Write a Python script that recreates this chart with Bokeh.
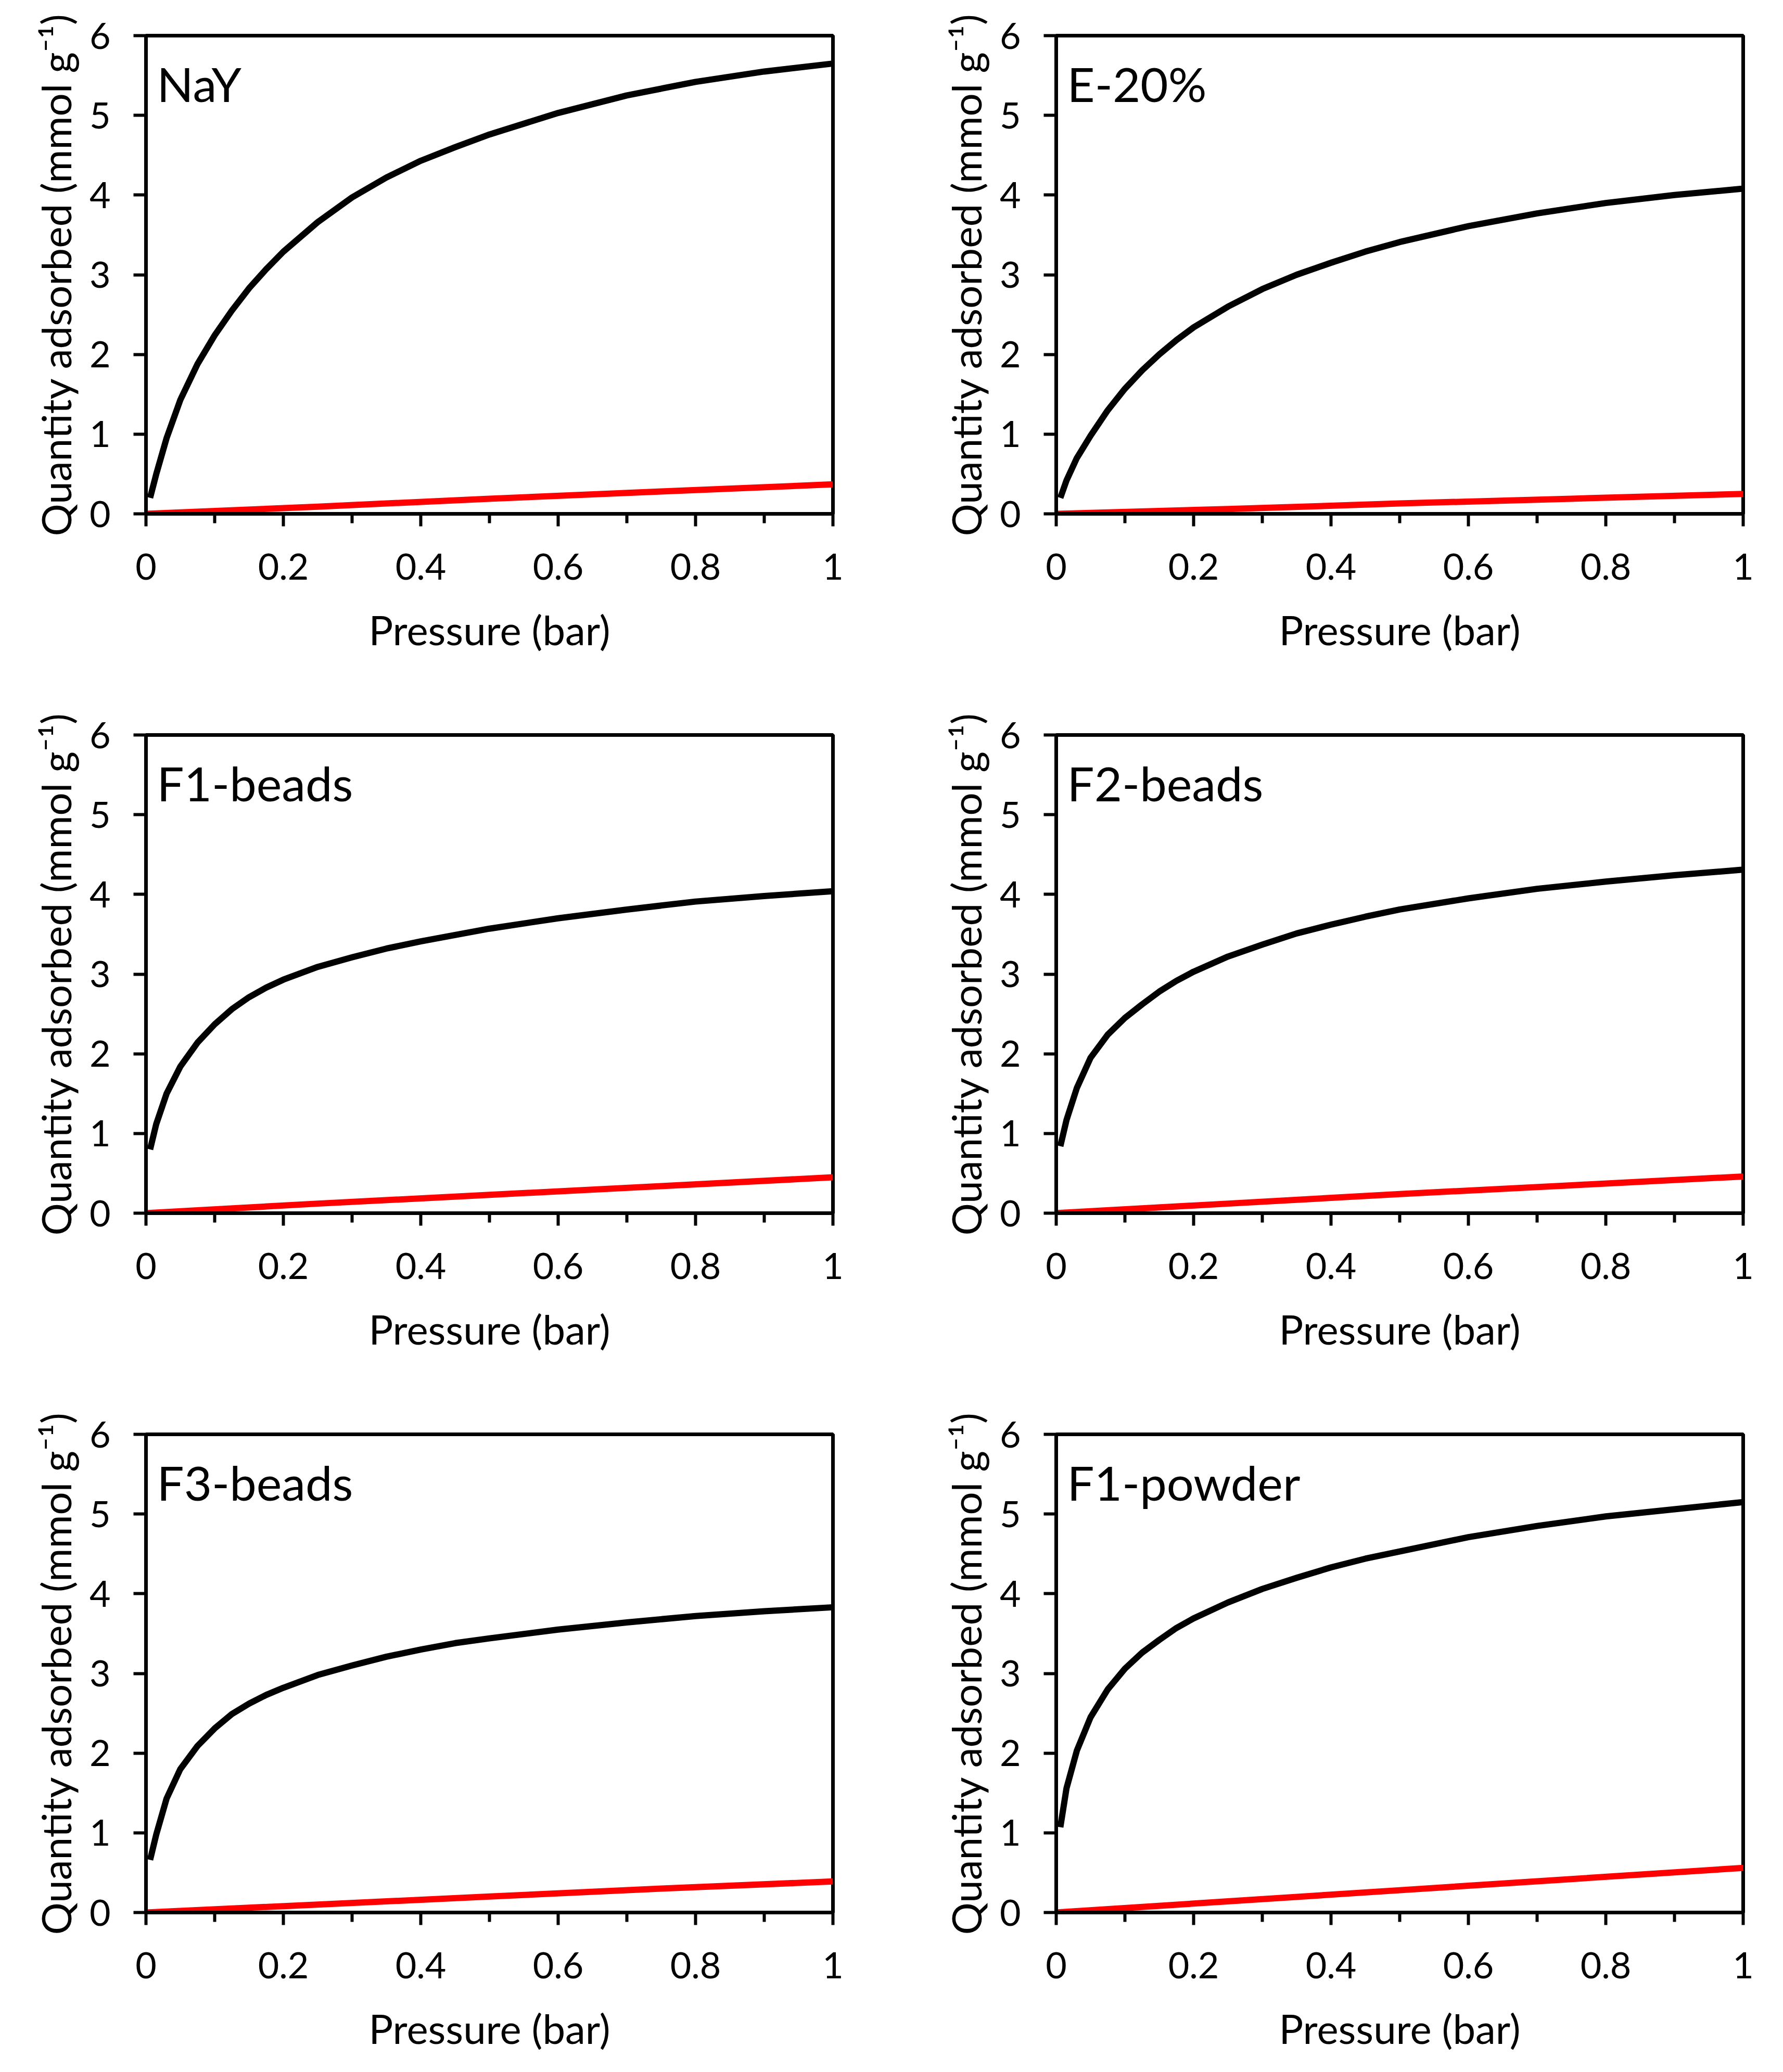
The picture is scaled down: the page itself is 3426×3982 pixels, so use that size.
from bokeh.plotting import figure
from bokeh.layouts import gridplot
from bokeh.models import Range1d, FixedTicker, Label, Title
from bokeh.embed import file_html
from bokeh.resources import INLINE

# pressure grid (bar) at which the CO2 isotherms were read
pressure = [0.006, 0.015, 0.03, 0.05, 0.075, 0.1, 0.125, 0.15, 0.175, 0.2, 0.25,
            0.3, 0.35, 0.4, 0.45, 0.5, 0.6, 0.7, 0.8, 0.9, 1.0]
nay_co2 = [0.2, 0.5, 0.95, 1.43, 1.88, 2.24, 2.55, 2.83, 3.07, 3.29, 3.66,
           3.97, 4.22, 4.43, 4.6, 4.76, 5.03, 5.25, 5.42, 5.55, 5.65]
e20_co2 = [0.2, 0.42, 0.7, 0.98, 1.3, 1.57, 1.8, 2.0, 2.18, 2.34, 2.6,
           2.82, 3.0, 3.15, 3.29, 3.41, 3.61, 3.77, 3.9, 4.0, 4.08]
f1b_co2 = [0.8, 1.12, 1.5, 1.84, 2.14, 2.37, 2.56, 2.71, 2.83, 2.93, 3.09,
           3.21, 3.32, 3.41, 3.49, 3.57, 3.7, 3.81, 3.91, 3.98, 4.04]
f2b_co2 = [0.84, 1.17, 1.57, 1.95, 2.24, 2.45, 2.62, 2.78, 2.915, 3.03, 3.22,
           3.37, 3.51, 3.62, 3.72, 3.81, 3.95, 4.07, 4.16, 4.24, 4.31]
f3b_co2 = [0.66, 0.98, 1.43, 1.8, 2.09, 2.31, 2.49, 2.62, 2.73, 2.82, 2.98,
           3.1, 3.21, 3.3, 3.38, 3.44, 3.55, 3.64, 3.72, 3.78, 3.83]
f1p_co2 = [1.07, 1.56, 2.03, 2.45, 2.8, 3.06, 3.26, 3.42, 3.57, 3.69, 3.89,
           4.06, 4.2, 4.33, 4.44, 4.53, 4.71, 4.85, 4.97, 5.06, 5.15]

# N2 isotherms (red), nearly linear
pressure_n2 = [0, 0.25, 0.5, 0.75, 1.0]
nay_n2 = [0, 0.09, 0.19, 0.28, 0.37]
e20_n2 = [0, 0.06, 0.13, 0.19, 0.25]
f1b_n2 = [0, 0.12, 0.23, 0.34, 0.45]
f2b_n2 = [0, 0.12, 0.24, 0.35, 0.46]
f3b_n2 = [0, 0.1, 0.2, 0.3, 0.39]
f1p_n2 = [0, 0.14, 0.28, 0.42, 0.56]

samples = ["NaY", "E-20%", "F1-beads", "F2-beads", "F3-beads", "F1-powder"]
co2 = [nay_co2, e20_co2, f1b_co2, f2b_co2, f3b_co2, f1p_co2]
n2 = [nay_n2, e20_n2, f1b_n2, f2b_n2, f3b_n2, f1p_n2]

x_ticks = [0, 0.2, 0.4, 0.6, 0.8, 1]
x_minor = [0.1, 0.3, 0.5, 0.7, 0.9]
y_ticks = [0, 1, 2, 3, 4, 5, 6]

FONT = "Lato"
FRAME_H = 919


def make_panel(name, q_co2, q_n2, col, row):
    w = 1749 if col == 0 else 1655
    h = 1270 if row == 2 else 1344
    p = figure(width=w, height=h, output_backend="svg", toolbar_location=None,
               x_range=Range1d(0, 1), y_range=Range1d(0, 6),
               min_border_left=280, min_border_right=149 if col == 0 else 55,
               min_border_top=68, min_border_bottom=h - 68 - FRAME_H)
    p.grid.visible = False
    p.outline_line_color = "black"
    p.outline_line_width = 7
    p.background_fill_color = "white"
    p.border_fill_color = "white"

    p.line(pressure_n2, q_n2, line_color="#ff0000", line_width=12, line_join="round")
    p.line(pressure, q_co2, line_color="black", line_width=12, line_join="round")

    p.xaxis.ticker = FixedTicker(ticks=x_ticks, minor_ticks=x_minor)
    p.xaxis.major_label_overrides = {t: f"{t:g}" for t in x_ticks}
    p.yaxis.ticker = FixedTicker(ticks=y_ticks)
    for ax in (p.xaxis, p.yaxis):
        ax.axis_line_width = 7
        ax.axis_line_color = "black"
        ax.major_tick_line_width = 6
        ax.minor_tick_line_width = 6
        ax.major_tick_in = 0
        ax.major_tick_out = 24
        ax.minor_tick_in = 0
        ax.minor_tick_out = 18
        ax.major_label_text_font = FONT
        ax.major_label_text_font_size = "70px"
        ax.major_label_text_color = "black"
        ax.axis_label_text_font = FONT
        ax.axis_label_text_font_size = "78px"
        ax.axis_label_text_font_style = "normal"
        ax.axis_label_text_color = "black"
    p.yaxis.minor_tick_out = 0
    p.xaxis.major_label_standoff = 52
    p.yaxis.major_label_standoff = 44
    p.xaxis.axis_label = "Pressure (bar)"
    p.xaxis.axis_label_standoff = 46

    # y title as a side title so it can sit a bit below the frame middle
    p.add_layout(Title(text="Quantity adsorbed (mmol g\u207b\u00b9)", align="center",
                       offset=73, standoff=30, text_font=FONT, text_font_size="78px",
                       text_font_style="normal", text_color="black"), "left")

    p.add_layout(Label(x=0.016, y=5.4, text=name, text_font=FONT,
                       text_font_size="92px", text_color="black",
                       text_baseline="alphabetic"))
    return p


panels = []
for i, name in enumerate(samples):
    panels.append(make_panel(name, co2[i], n2[i], i % 2, i // 2))

grid = gridplot([panels[0:2], panels[2:4], panels[4:6]], toolbar_location=None)

open("out.html", "w").write(file_html(grid, INLINE))
